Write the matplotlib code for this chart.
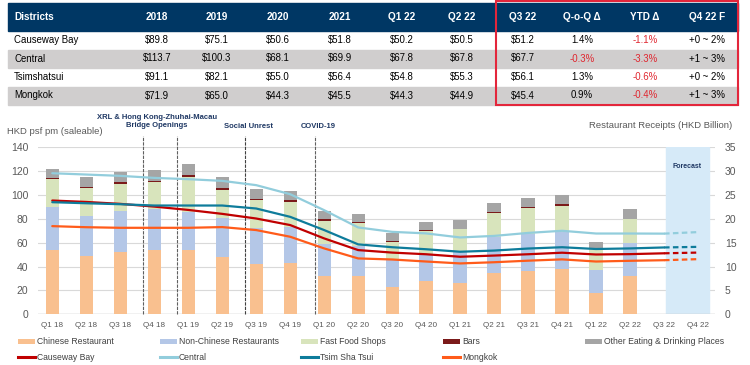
import matplotlib
matplotlib.use("Agg")
import matplotlib.pyplot as plt
from matplotlib.patches import Rectangle, Patch
from matplotlib.lines import Line2D
import numpy as np

plt.rcParams['font.family'] = ['Liberation Sans', 'DejaVu Sans']

W, H = 750, 365

# ---- table data ----
table_header = ["Districts", "2018", "2019", "2020", "2021", "Q1 22", "Q2 22",
                "Q3 22", "Q-o-Q \u0394", "YTD \u0394", "Q4 22 F"]
districts = ["Causeway Bay", "Central", "Tsimshatsui", "Mongkok"]
rent_2018 = ["$89.8", "$113.7", "$91.1", "$71.9"]
rent_2019 = ["$75.1", "$100.3", "$82.1", "$65.0"]
rent_2020 = ["$50.6", "$68.1", "$55.0", "$44.3"]
rent_2021 = ["$51.8", "$69.9", "$56.4", "$45.5"]
rent_q1_22 = ["$50.2", "$67.8", "$54.8", "$44.3"]
rent_q2_22 = ["$50.5", "$67.8", "$55.3", "$44.9"]
rent_q3_22 = ["$51.2", "$67.7", "$56.1", "$45.4"]
qoq_change = ["1.4%", "-0.3%", "1.3%", "0.9%"]
ytd_change = ["-1.1%", "-3.3%", "-0.6%", "-0.4%"]
q4_forecast = ["+0 ~ 2%", "+1 ~ 3%", "+0 ~ 2%", "+1 ~ 3%"]

# ---- chart data ----
quarters = ["Q1 18", "Q2 18", "Q3 18", "Q4 18", "Q1 19", "Q2 19", "Q3 19", "Q4 19",
            "Q1 20", "Q2 20", "Q3 20", "Q4 20", "Q1 21", "Q2 21", "Q3 21", "Q4 21",
            "Q1 22", "Q2 22", "Q3 22", "Q4 22"]

# restaurant receipts, HKD billion (Q1 18 - Q2 22)
chinese = [13.5, 12.2, 13.1, 13.4, 13.4, 12.0, 10.6, 10.7, 8.0, 8.1, 5.7, 6.9, 6.5, 8.6, 9.1, 9.6, 4.4, 8.0]
non_chinese = [9.0, 8.5, 8.6, 8.6, 8.0, 8.2, 7.6, 7.7, 6.8, 6.2, 5.7, 5.6, 6.6, 7.7, 7.7, 7.7, 4.9, 7.0]
fast_food = [5.9, 5.8, 5.7, 5.7, 7.5, 5.9, 5.7, 5.2, 4.8, 4.8, 3.8, 5.0, 4.7, 4.9, 5.5, 5.4, 4.3, 4.9]
bars = [0.25, 0.3, 0.3, 0.3, 0.35, 0.4, 0.3, 0.3, 0.3, 0.3, 0.2, 0.2, 0.2, 0.3, 0.2, 0.4, 0.1, 0.2]
other = [1.9, 2.1, 2.2, 2.3, 2.3, 2.3, 2.1, 2.0, 1.8, 1.7, 1.6, 1.7, 1.8, 1.8, 2.0, 1.9, 1.4, 1.9]

# rents, HKD psf pm (Q1 18 - Q3 22) and Q4 22 forecast
central = [118.4, 117.3, 116.2, 114.5, 113.4, 112.0, 108.4, 100.8, 87.4, 72.9,
           69.2, 67.9, 64.5, 65.8, 68.3, 70.1, 67.8, 67.8, 67.7]
tst = [94.1, 93.2, 92.4, 91.3, 91.3, 91.3, 88.8, 81.8, 70.7, 58.7,
       56.3, 54.6, 52.5, 53.5, 55.2, 56.3, 54.8, 55.3, 56.1]
cwb = [95.5, 94.3, 92.7, 90.4, 87.6, 84.3, 80.4, 74.9, 63.7, 53.9,
       51.8, 50.4, 48.3, 49.3, 50.4, 51.7, 50.2, 50.5, 51.2]
mk = [74.0, 73.1, 72.6, 72.6, 72.6, 73.2, 70.7, 65.1, 55.3, 46.9,
      46.0, 44.3, 42.7, 43.7, 45.0, 46.1, 44.3, 44.9, 45.4]
forecast_q4 = {"central": 69.0, "tst": 56.6, "cwb": 51.8, "mk": 46.3}

events = [(2.68, "XRL & Hong Kong-Zhuhai-Macau\nBridge Openings"), (3.68, ""),
          (5.68, "Social Unrest"), (7.72, "COVID-19")]

NAVY = "#003764"
GRAY_TXT = "#595959"
RED = "#E0262F"


def fx(x):
    return x / W


def fy(y):
    return 1 - y / H


def draw_table(fig):
    col_x = [14, 157, 217, 278, 340, 402, 462, 523, 582, 645, 707]
    fig.patches.append(Rectangle((fx(8), fy(31)), fx(730), 28 / H,
                                 transform=fig.transFigure, color=NAVY))
    for j, name in enumerate(table_header):
        fig.text(fx(col_x[j]), fy(17), name, color="white", fontsize=7.2, fontweight="bold",
                 ha="left" if j == 0 else "center", va="center")

    row_edges = [31, 49.5, 67.5, 86, 105]
    columns = [districts, rent_2018, rent_2019, rent_2020, rent_2021, rent_q1_22,
               rent_q2_22, rent_q3_22, qoq_change, ytd_change, q4_forecast]
    for i in range(len(districts)):
        top, bot = row_edges[i], row_edges[i + 1]
        if i % 2 == 1:
            fig.patches.append(Rectangle((fx(8), fy(bot)), fx(730), (bot - top - 0.8) / H,
                                         transform=fig.transFigure, color="#D0CECE"))
        yc = fy((top + bot) / 2)
        for j, col in enumerate(columns):
            txt = col[i]
            color = RED if txt.startswith("-") else "black"
            fig.text(fx(col_x[j]), yc, txt, color=color, fontsize=6.9,
                     ha="left" if j == 0 else "center", va="center")

    fig.patches.append(Rectangle((fx(496), fy(105)), fx(242), 104 / H, fill=False,
                                 edgecolor="#E3263B", lw=1.5, transform=fig.transFigure))


def draw_chart(fig):
    ax = fig.add_axes([fx(38), fy(314.3), fx(677), 166.8 / H])
    ax2 = ax.twinx()
    x = np.arange(len(quarters))
    bx = np.arange(len(chinese))

    # stacked bars (right axis)
    stack = [(chinese, "#F9C08F", "Chinese Restaurant"),
             (non_chinese, "#B4C7E7", "Non-Chinese Restaurants"),
             (fast_food, "#D8E4BC", "Fast Food Shops"),
             (bars, "#7B1A1A", "Bars"),
             (other, "#A5A5A5", "Other Eating & Drinking Places")]
    bottom = np.zeros(len(bx))
    patches = []
    for vals, color, label in stack:
        ax.bar(bx, vals, bottom=bottom, width=0.39, color=color, zorder=2)
        bottom += np.array(vals)
        patches.append(Patch(facecolor=color, label=label))

    ax.axvspan(18.05, 19.32, color="#D6EAF8", zorder=1)
    ax.text(18.68, 31.1, "Forecast", fontsize=5, fontweight="bold", color="#1F3864",
            ha="center", va="center", zorder=3)

    ax.set_xlim(-0.42, 19.5)
    ax.set_ylim(0, 35)
    ax.set_yticks(range(0, 36, 5))
    ax.yaxis.tick_right()
    ax.set_xticks(x)
    ax.set_xticklabels(quarters)
    ax.grid(axis="y", color="#D9D9D9", lw=0.8)
    ax.set_axisbelow(True)
    ax.axhline(0, color="#C8C8C8", lw=1, zorder=1)
    ax.tick_params(length=0, colors=GRAY_TXT)
    ax.tick_params(axis="y", pad=7, labelsize=7.5)
    ax.tick_params(axis="x", pad=5.5, labelsize=5.9)
    for s in ax.spines.values():
        s.set_visible(False)

    for xpos, label in events:
        color = "#404040" if label == "Social Unrest" else "#606060"
        ax.axvline(xpos, ymin=0, ymax=1.068, color=color, lw=0.8, ls=(0, (3, 1)),
                   clip_on=False, zorder=3)
    fig.text(fx(157), fy(121.5), events[0][1], fontsize=5.5, fontweight="bold",
             color="#1F3864", ha="center", va="center", linespacing=1.15)
    fig.text(fx(248), fy(126), "Social Unrest", fontsize=5.5, fontweight="bold",
             color="#1F3864", ha="center", va="center")
    fig.text(fx(318), fy(127), "COVID-19", fontsize=5.5, fontweight="bold",
             color="#1F3864", ha="center", va="center")

    # rent lines (left axis)
    ax2.set_ylim(0, 140)
    ax2.set_yticks(range(0, 141, 20))
    ax2.yaxis.tick_left()
    ax2.tick_params(length=0, colors=GRAY_TXT, labelsize=7.5, pad=7)
    for s in ax2.spines.values():
        s.set_visible(False)

    series = [(cwb, "cwb", "#C00000", "Causeway Bay"),
              (central, "central", "#92CDDC", "Central"),
              (tst, "tst", "#0E7C9B", "Tsim Sha Tsui"),
              (mk, "mk", "#FF5B1A", "Mongkok")]
    lines = []
    for vals, key, color, label in series:
        ax2.plot(x[:len(vals)], vals, color=color, lw=1.6, solid_capstyle="round")
        ax2.plot(x[len(vals) - 1:], [vals[-1], forecast_q4[key]], color=color, lw=1.6,
                 ls=(0, (2.5, 1.5)))
        lines.append(Line2D([], [], color=color, lw=2.2, label=label))

    fig.text(fx(7), fy(131), "HKD psf pm (saleable)", fontsize=6.8, color=GRAY_TXT,
             ha="left", va="center")
    fig.text(fx(732), fy(125), "Restaurant Receipts (HKD Billion)", fontsize=6.8,
             color=GRAY_TXT, ha="right", va="center")

    # legend, one column at a time
    columns = [[patches[0], lines[0]], [patches[1], lines[1]], [patches[2], lines[2]],
               [patches[3], lines[3]], [patches[4]]]
    col_px = [18, 160, 301, 443, 585]
    for handles, xp in zip(columns, col_px):
        fig.legend(handles=handles, loc="upper left", bbox_to_anchor=(fx(xp), fy(337.5)),
                   frameon=False, fontsize=6.2, labelcolor="#404040", borderpad=0,
                   borderaxespad=0, handlelength=2.0, handleheight=0.6,
                   handletextpad=0.2, labelspacing=0.75)


def main():
    fig = plt.figure(figsize=(W / 100, H / 100), dpi=100)
    draw_table(fig)
    draw_chart(fig)
    fig.savefig("out.png", dpi=100)


if __name__ == "__main__":
    main()
